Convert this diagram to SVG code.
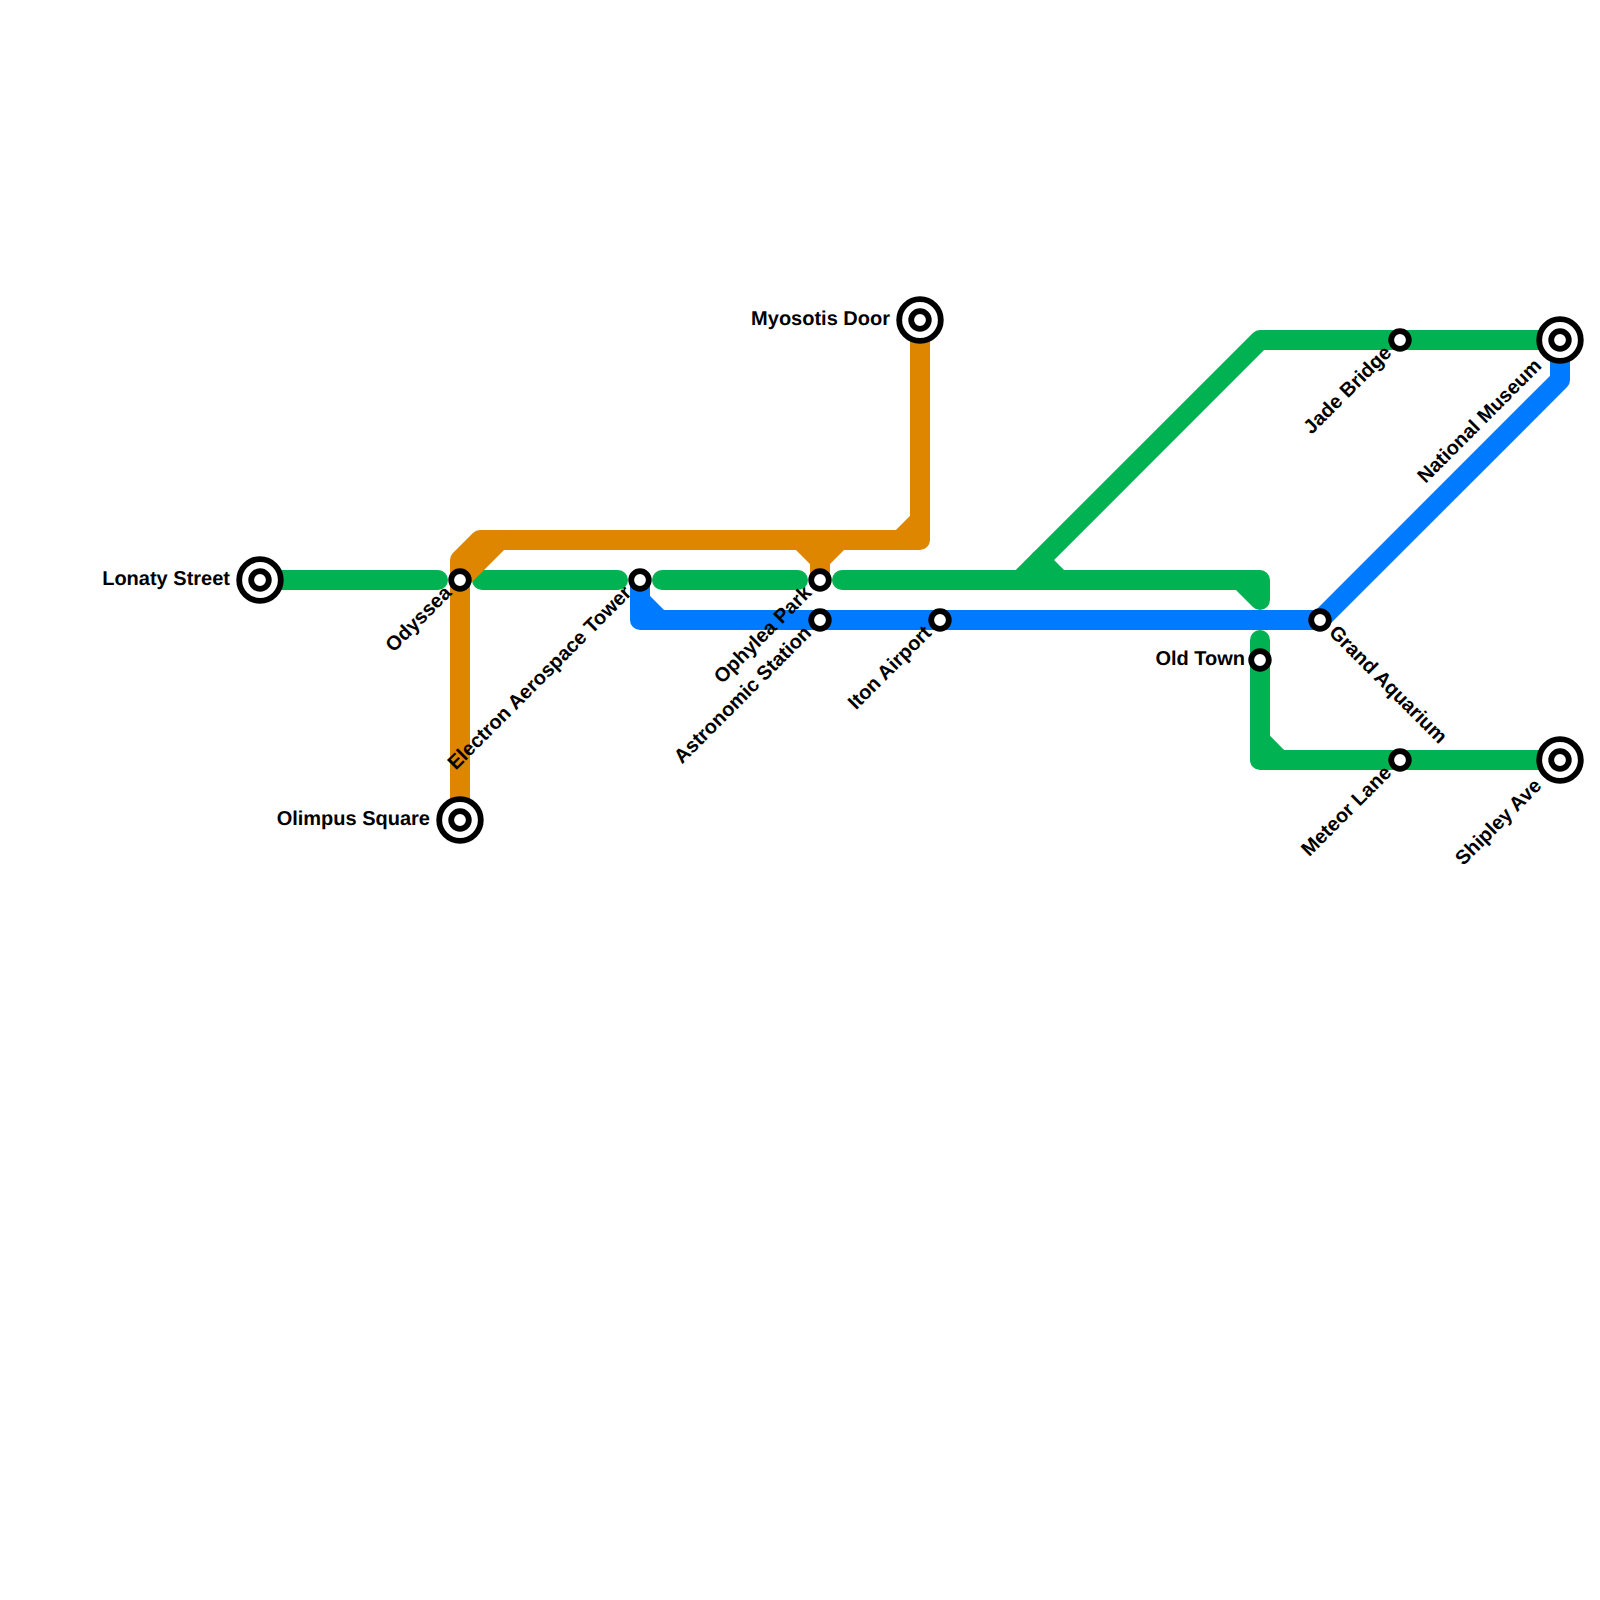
<svg xmlns="http://www.w3.org/2000/svg" width="1600" height="1600" viewBox="0 0 1600 1600">
<style>
.line{fill:none;stroke-width:20;stroke-linecap:round;stroke-linejoin:round}
.g{stroke:#00b251}.o{stroke:#df8600}.b{stroke:#007aff}
.st{fill:#fff;stroke:#000;stroke-width:5.8}
text{font-family:"Liberation Sans",Arial,sans-serif;font-weight:700;font-size:20px;fill:#000;text-rendering:geometricPrecision}
.e{text-anchor:end}
</style>
<rect width="1600" height="1600" fill="#fff"/>
<g id="connectors">
<path class="line g" d="M260,580H438"/>
<path class="line g" d="M482,580H618"/>
<path class="line g" d="M662,580H798"/>
<path class="line g" d="M842,580H1260V600L1240,580"/>
<path class="line g" d="M1020,580L1260,340H1560"/>
<path class="line g" d="M1040,560L1060,580"/>
<path class="line g" d="M1260,640V760H1560"/>
<path class="line g" d="M1260,740L1280,760"/>
<path class="line o" d="M460,820V560L480,540H920V320"/>
<path class="line o" d="M460,580L500,540"/>
<path class="line o" d="M800,540L820,560V580"/>
<path class="line o" d="M840,540L820,560"/>
<path class="line o" d="M900,540L920,520"/>
<path class="line b" d="M640,580V620H1320L1560,380V340"/>
<path class="line b" d="M640,600L660,620"/>
</g>
<g id="lonaty"><circle class="st" cx="260" cy="580" r="20.8"/><circle class="st" cx="260" cy="580" r="8.8"/><text class="e" x="230" y="585">Lonaty Street</text></g>
<g id="odyssea"><circle class="st" cx="460" cy="580" r="8.8"/><text class="e" transform="translate(452.5,594) rotate(-45)">Odyssea</text></g>
<g id="electron"><circle class="st" cx="640" cy="580" r="8.8"/><text class="e" transform="translate(632.5,594) rotate(-45)">Electron Aerospace Tower</text></g>
<g id="ophylea"><circle class="st" cx="820" cy="580" r="8.8"/><text class="e" transform="translate(812.5,594) rotate(-45)">Ophylea Park</text></g>
<g id="astronomic"><circle class="st" cx="820" cy="620" r="8.8"/><text class="e" transform="translate(812.5,634) rotate(-45)">Astronomic Station</text></g>
<g id="iton"><circle class="st" cx="940" cy="620" r="8.8"/><text class="e" transform="translate(932.5,634) rotate(-45)">Iton Airport</text></g>
<g id="grand"><circle class="st" cx="1320" cy="620" r="8.8"/><text transform="translate(1328,633.5) rotate(45)">Grand Aquarium</text></g>
<g id="oldtown"><circle class="st" cx="1260" cy="660" r="8.8"/><text class="e" x="1245" y="665">Old Town</text></g>
<g id="jade"><circle class="st" cx="1400" cy="340" r="8.8"/><text class="e" transform="translate(1392.5,354) rotate(-45)">Jade Bridge</text></g>
<g id="national"><circle class="st" cx="1560" cy="340" r="20.8"/><circle class="st" cx="1560" cy="340" r="8.8"/><text class="e" transform="translate(1542.5,367) rotate(-45)">National Museum</text></g>
<g id="meteor"><circle class="st" cx="1400" cy="760" r="8.8"/><text class="e" transform="translate(1392.5,774) rotate(-45)">Meteor Lane</text></g>
<g id="shipley"><circle class="st" cx="1560" cy="760" r="20.8"/><circle class="st" cx="1560" cy="760" r="8.8"/><text class="e" transform="translate(1542.5,787) rotate(-45)">Shipley Ave</text></g>
<g id="myosotis"><circle class="st" cx="920" cy="320" r="20.8"/><circle class="st" cx="920" cy="320" r="8.8"/><text class="e" x="890" y="325">Myosotis Door</text></g>
<g id="olimpus"><circle class="st" cx="460" cy="820" r="20.8"/><circle class="st" cx="460" cy="820" r="8.8"/><text class="e" x="430" y="825">Olimpus Square</text></g>
</svg>
